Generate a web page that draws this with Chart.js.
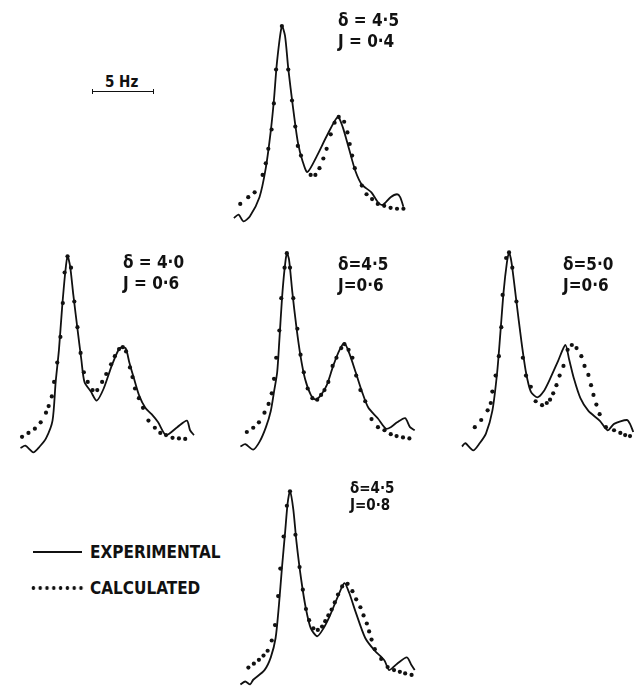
<!DOCTYPE html>
<html>
<head>
<meta charset="utf-8">
<script src="https://cdn.jsdelivr.net/npm/chart.js@4.4.1/dist/chart.umd.min.js"></script>
<style>
html,body{margin:0;padding:0;background:#fff;}
body{width:639px;height:690px;position:relative;overflow:hidden;font-family:"DejaVu Sans Condensed","DejaVu Sans",sans-serif;font-weight:bold;color:#111;}
canvas{position:absolute;}
.lbl{position:absolute;font-size:17px;line-height:21px;white-space:nowrap;}
.lbl.small{font-size:15px;line-height:17px;}
.scale{position:absolute;left:92px;top:91px;width:62px;height:0;border-top:1.5px solid #111;}
.scale:before,.scale:after{content:"";position:absolute;top:-3px;width:0;height:5px;border-left:1.5px solid #111;}
.scale:before{left:0;}
.scale:after{right:0;}
.scaleTxt{position:absolute;left:105px;top:74px;font-size:15px;line-height:17px;}
.key{position:absolute;left:90px;font-size:17px;line-height:20px;}
.solid{position:absolute;left:33px;top:551px;width:49px;border-top:2px solid #111;}
.dots{position:absolute;left:30px;top:585px;width:54px;height:6px;background:radial-gradient(circle,#111 1.6px,transparent 2.1px);background-size:6.8px 6px;background-repeat:repeat-x;}
</style>
</head>
<body>

<canvas id="pTop" width="200" height="240"></canvas>
<canvas id="pLeft" width="200" height="240"></canvas>
<canvas id="pMid" width="200" height="240"></canvas>
<canvas id="pRight" width="200" height="240"></canvas>
<canvas id="pBot" width="200" height="240"></canvas>

<div class="scaleTxt">5 Hz</div>
<div class="scale"></div>

<div class="solid"></div>
<div class="key" style="top:542px">EXPERIMENTAL</div>
<div class="dots"></div>
<div class="key" style="top:578px">CALCULATED</div>

<script>

/* DATA: x in Hz from panel start, y = relative intensity */

const topExpHz = [0.40,0.79,1.19,1.72,2.52,3.04,3.44,3.71,3.97,4.37,4.63,4.90,5.29,5.69,6.09,6.48,7.28,8.07,8.99,9.39,9.92,10.45,10.98,11.77,12.30,12.70,13.36,13.89,14.15,14.42];
const topExpInt = [6.7,8.5,5,7.5,17.5,32.5,51,67.5,87.5,106,101,84,64,46,36,30.5,39,49,59,54,42.5,31,24,20,15,13.5,17.5,19,17.5,12.5];
const topCalcHz = [0.93,1.59,2.12,2.78,3.04,3.25,3.52,3.71,3.89,4.37,4.90,5.21,5.48,5.69,5.95,6.75,7.14,7.48,7.80,8.07,8.41,8.73,9.07,9.52,9.79,9.98,10.18,10.40,10.98,11.37,11.83,12.30,12.83,13.36,13.89,14.42];
const topCalcInt = [14,17.5,20,29,35,42.5,52.5,66,83.5,106,83.5,67.5,54,44,39,29,29,32.5,37.5,42.5,50,56,59,56.5,51,45,39,32.5,23.5,19,16.5,14,13,12,11.5,11.5];

const leftExpHz = [0.37,0.77,1.43,1.96,2.48,3.02,3.28,3.55,3.81,4.07,4.26,4.47,4.74,5.13,5.40,5.66,6.19,6.67,7.25,7.91,8.57,9.05,9.37,9.76,10.16,10.69,11.21,11.75,12.40,13.33,14.13,14.39,14.71];
const leftExpInt = [6.7,7.9,4.5,7.5,11.7,20.9,40.9,57.5,79.2,97.5,105.9,100.9,85.9,65.9,52.5,40.9,35.9,31.2,37.5,49.2,58.4,58.4,50.9,42.5,34.2,27.5,24.2,20,13.4,17.5,20.9,15.9,13.4];
const leftCalcHz = [0.50,1.03,1.56,2.04,2.48,2.70,2.96,3.15,3.41,3.67,3.87,4.02,4.26,4.55,4.82,5.08,5.34,5.61,5.93,6.33,6.72,7.12,7.46,7.86,8.17,8.52,8.83,9.10,9.42,9.63,9.84,10.16,10.50,10.95,11.48,11.93,12.40,12.94,13.47,13.99];
const leftCalcInt = [12.5,14.5,16.7,20,25,28.4,33.4,40.9,50.9,64.2,81.7,97.5,105.9,100,82.5,69.2,55.9,45.9,40.9,36.7,36.7,40.9,45,50,54.2,57.9,58.9,56.7,48.4,43.4,37.5,32.5,27.5,20.9,17.2,14.5,13.4,12,11.7,11.4];

const midExpHz = [0.53,0.93,1.59,2.12,2.64,3.04,3.31,3.57,3.75,3.97,4.18,4.37,4.55,4.82,5.16,5.50,5.87,6.35,6.75,7.20,7.67,8.20,8.73,9.13,9.52,10.06,10.58,11.11,11.90,12.56,12.96,13.49,14.15,14.55,14.94];
const midExpInt = [7.5,8.7,5.9,10,17.5,25.9,35.9,45.9,62.5,84.2,99.2,107.5,104.2,87.5,69.2,54.2,42.5,34.2,31.7,34.2,39.2,49.2,57.5,60.9,55.9,45.9,35.9,27.5,22,16.7,17.5,20,22.2,17.5,15.9];
const midCalcHz = [1.06,1.59,2.06,2.52,2.86,3.12,3.31,3.49,3.75,3.91,4.18,4.37,4.63,4.90,5.24,5.50,5.77,6.09,6.48,6.88,7.20,7.48,7.80,8.15,8.47,8.87,9.13,9.47,9.79,10.10,10.45,10.85,11.37,11.90,12.44,12.96,13.44,13.97,14.50];
const midCalcInt = [15,17.2,20,25,29.5,35,42.5,53.4,67.5,84.2,100,107.5,100,84.2,68.4,55,45.9,37.5,32.5,31.7,34.2,36.7,40.9,49.2,53.4,58.4,60.5,57.5,53.4,44.2,36.7,30.9,21.7,17.5,15.9,13.9,12.9,12.2,11.7];

const rightExpHz = [0.66,0.93,1.59,2.12,2.64,3.17,3.57,3.83,4.10,4.37,4.55,4.76,5.16,5.56,5.95,6.35,6.88,7.40,7.94,8.60,9.21,9.52,9.92,10.45,11.11,12.04,12.70,13.23,14.29,14.55,14.82];
const rightExpInt = [7.5,9.2,5.5,9.2,14.2,25.9,45.9,65.9,87.5,102.5,107.9,102.5,82.5,62.5,45.9,35.9,32.9,35.9,42.5,51.7,60,52.5,42.5,32.5,25.9,20.9,15.9,19.2,21.2,19.2,15];
const rightCalcHz = [1.72,2.25,2.78,3.04,3.17,3.44,3.71,3.91,4.02,4.31,4.55,4.82,5.16,5.69,5.95,6.35,6.75,7.28,7.67,7.94,8.20,8.47,8.73,9.05,9.39,9.74,10.13,10.53,10.79,11.11,11.33,11.53,11.77,12.04,12.56,13.23,13.75,14.15,14.55];
const rightCalcInt = [17.5,21.2,26.2,30,35.9,44.2,54.2,69.2,85.9,105,107.9,100,82.5,53.4,44.2,38.4,30.9,28.9,30,31.7,35,39.2,44.2,49.2,57.5,60,58.4,54.2,49.2,44.5,39.2,34.2,29.2,24.2,17.5,15.9,14.5,13.4,12.9];

const botExpHz = [0.53,0.93,1.33,1.59,2.52,3.04,3.44,3.71,3.97,4.23,4.44,4.63,4.90,5.16,5.56,5.95,6.35,6.88,7.40,7.94,8.60,9.13,9.52,10.06,10.85,11.64,12.44,12.83,13.49,14.29,14.68,14.94];
const botExpInt = [6,7.5,6,8.4,13.4,20,30,46.7,66.7,85,100,105.9,96.7,80,60,45,35,30.9,35,41.7,51.7,58.4,53.4,43.4,30,23.4,18.4,13.4,16.7,20,15.9,13.4];
const botCalcHz = [1.19,1.64,2.06,2.44,2.78,3.12,3.39,3.65,3.83,4.10,4.37,4.63,5.08,5.42,5.69,5.95,6.21,6.56,6.93,7.28,7.54,7.80,8.07,8.33,8.60,8.94,9.39,9.79,10.10,10.45,10.71,10.98,11.17,11.37,11.64,12.17,12.70,13.23,13.71,14.15,14.68];
const botCalcInt = [14.7,16.7,18.7,20.9,23.4,28.7,36.7,51.7,65.9,82.5,98.4,105.9,83.4,66.7,55,45,39.2,35,34.2,35.9,38.7,41.7,44.7,48.4,52.5,56.7,58,54.2,50,45.9,41.7,37.5,33.4,29.2,24.2,19.2,15,13.4,12.5,11.7,10.9];

const deltas = ["4·5", "4·0", "4·5", "5·0", "4·5"];
const couplings = ["0·4", "0·6", "0·6", "0·6", "0·8"];

/* LAYOUT */

const PX_PER_HZ = 12.6;
const CW = 200, CH = 240;

const panels = [
  {id: "pTop",   left: 225, bottom: 235, expX: topExpHz,   expY: topExpInt,   calcX: topCalcHz,   calcY: topCalcInt,   lx: 338, ly: 10,  small: false, sep: " = "},
  {id: "pLeft",  left: 12,  bottom: 465, expX: leftExpHz,  expY: leftExpInt,  calcX: leftCalcHz,  calcY: leftCalcInt,  lx: 123, ly: 252, small: false, sep: " = "},
  {id: "pMid",   left: 230, bottom: 465, expX: midExpHz,   expY: midExpInt,   calcX: midCalcHz,   calcY: midCalcInt,   lx: 338, ly: 254, small: false, sep: "="},
  {id: "pRight", left: 450, bottom: 465, expX: rightExpHz, expY: rightExpInt, calcX: rightCalcHz, calcY: rightCalcInt, lx: 563, ly: 254, small: false, sep: "="},
  {id: "pBot",   left: 230, bottom: 700, expX: botExpHz,   expY: botExpInt,   calcX: botCalcHz,   calcY: botCalcInt,   lx: 350, ly: 480, small: true,  sep: "="}
];

function pts(xs, ys){
  return xs.map(function(x, i){ return {x: x, y: ys[i]}; });
}

panels.forEach(function(p, i){

  const canvas = document.getElementById(p.id);
  canvas.style.left = p.left + "px";
  canvas.style.top = (p.bottom - CH) + "px";

  new Chart(canvas.getContext("2d"), {
    type: "line",
    data: {
      datasets: [
        {
          label: "CALCULATED",
          data: pts(p.calcX, p.calcY),
          showLine: false,
          pointRadius: 2.1,
          pointBackgroundColor: "#111",
          pointBorderWidth: 0
        },
        {
          label: "EXPERIMENTAL",
          data: pts(p.expX, p.expY),
          borderColor: "#111",
          borderWidth: 1.8,
          pointRadius: 0,
          tension: 0.25,
          fill: false
        }
      ]
    },
    options: {
      responsive: false,
      animation: false,
      events: [],
      layout: {padding: 0},
      plugins: {legend: {display: false}, tooltip: {enabled: false}},
      scales: {
        x: {type: "linear", min: 0, max: CW / PX_PER_HZ, display: false},
        y: {min: 0, max: CH / 2, display: false}
      }
    }
  });

  const lbl = document.createElement("div");
  lbl.className = "lbl" + (p.small ? " small" : "");
  lbl.style.left = p.lx + "px";
  lbl.style.top = p.ly + "px";
  lbl.innerHTML = "<div>δ" + p.sep + deltas[i] + "</div><div>J" + p.sep + couplings[i] + "</div>";
  document.body.appendChild(lbl);

});

</script>
</body>
</html>
